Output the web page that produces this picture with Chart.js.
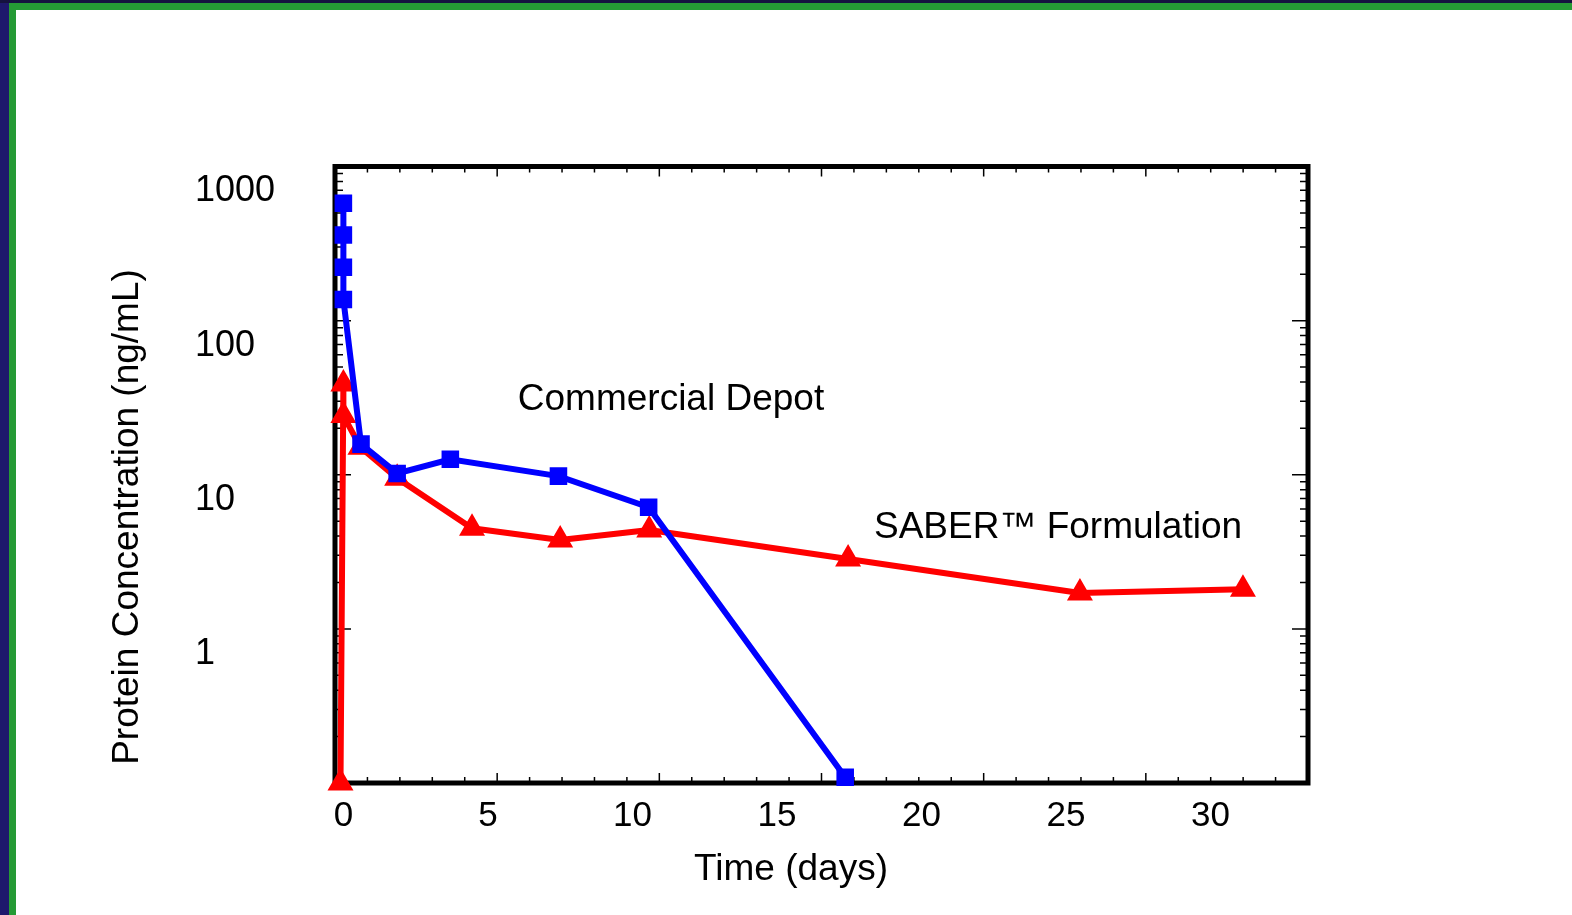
<!DOCTYPE html>
<html lang="en">
<head>
  <meta charset="UTF-8" />
  <title>Protein Concentration vs Time</title>
  <script src="https://cdn.jsdelivr.net/npm/chart.js"></script>
  <style>
    html, body { margin: 0; padding: 0; }
    body {
      width: 1572px;
      height: 915px;
      position: relative;
      overflow: hidden;
      background: #1e186c;
    }
    .topband { position: absolute; left: 0; top: 0; right: 0; height: 3px; background: #15123f; }
    .green { position: absolute; left: 9px; top: 3px; right: 0; bottom: 0; background: #259a35; }
    .sheet { position: absolute; left: 16px; top: 10px; right: 0; bottom: 0; background: #fff; }
    canvas { position: absolute; left: 0; top: 0; }
  </style>
</head>
<body>
  <div class="topband"></div>
  <div class="green"></div>
  <div class="sheet"></div>
  <canvas id="pkChart" width="1572" height="915"></canvas>

  <script>
    // Commercial depot (blue squares)
    const depotTime = [0, 0, 0, 0, 0.61, 1.86, 3.7, 7.44, 10.56, 17.36];
    const depotConc = [577, 359, 222, 137, 15.8, 10.2, 12.6, 9.8, 6.15, 0.109];

    // SABER formulation (red triangles)
    const saberTime = [-0.1, 0, 0, 0.59, 1.86, 4.45, 7.5, 10.58, 17.46, 25.48, 31.12];
    const saberConc = [0.1, 38.8, 24.2, 15.1, 9.5, 4.5, 3.77, 4.38, 2.84, 1.71, 1.81];

    const xTickLabels = [0, 5, 10, 15, 20, 25, 30];
    const yTickLabels = [1, 10, 100, 1000];
    // small tick marks drawn on the inside of the frame
    const frameTicksX = [];
    for (let i = 1; i < 30; i++) frameTicksX.push(i);

    const FONT = '"Liberation Sans", Arial, sans-serif';
    Chart.defaults.font.family = FONT;
    Chart.defaults.color = '#000';

    const toPoints = (xs, ys) => xs.map((x, i) => ({ x: x, y: ys[i] }));

    const framePlugin = {
      id: 'frame',
      beforeDatasetsDraw(chart) {
        const { ctx, chartArea: a, scales } = chart;
        ctx.save();
        ctx.strokeStyle = '#000';
        ctx.lineWidth = 1.5;
        ctx.beginPath();
        frameTicksX.forEach(v => {
          const px = scales.xt.getPixelForValue(v);
          const len = v % 5 === 0 ? 10 : 6;
          ctx.moveTo(px, a.bottom); ctx.lineTo(px, a.bottom - len);
          ctx.moveTo(px, a.top); ctx.lineTo(px, a.top + len);
        });
        for (let d = -1; d < 3; d++) {
          for (let m = 1; m < 10; m++) {
            const v = m * Math.pow(10, d);
            if (v <= 0.1) continue;
            const py = scales.y.getPixelForValue(v);
            const len = m === 1 ? 16 : 8;
            ctx.moveTo(a.left, py); ctx.lineTo(a.left + len, py);
            ctx.moveTo(a.right, py); ctx.lineTo(a.right - len, py);
          }
        }
        ctx.stroke();
        ctx.lineWidth = 5;
        ctx.strokeRect(a.left, a.top, a.right - a.left, a.bottom - a.top);
        ctx.restore();
      },
      afterDraw(chart) {
        const ctx = chart.ctx;
        ctx.save();
        ctx.fillStyle = '#000';
        ctx.textAlign = 'center';
        ctx.textBaseline = 'middle';
        ctx.font = '37px ' + FONT;
        ctx.fillText('Commercial Depot', 671, 400);
        ctx.fillText('SABER\u2122 Formulation', 1058, 528);
        ctx.fillText('Time (days)', 791, 870);
        ctx.translate(128, 517);
        ctx.rotate(-Math.PI / 2);
        ctx.fillText('Protein Concentration (ng/mL)', 0, 0);
        ctx.restore();
      }
    };

    new Chart(document.getElementById('pkChart'), {
      type: 'line',
      data: {
        datasets: [
          {
            label: 'Commercial Depot',
            data: toPoints(depotTime, depotConc),
            borderColor: '#0000ff',
            backgroundColor: '#0000ff',
            borderWidth: 6,
            pointStyle: 'rect',
            pointRadius: 11,
            pointBorderWidth: 2,
            tension: 0,
            clip: false
          },
          {
            label: 'SABER\u2122 Formulation',
            data: toPoints(saberTime, saberConc),
            borderColor: '#ff0000',
            backgroundColor: '#ff0000',
            borderWidth: 6,
            borderJoinStyle: 'round',
            pointStyle: 'triangle',
            pointRadius: 12,
            pointBorderWidth: 3,
            tension: 0,
            clip: false
          }
        ]
      },
      options: {
        responsive: false,
        animation: false,
        events: [],
        layout: {
          autoPadding: false,
          padding: { left: 195, top: 166.5, right: 264, bottom: 72 }
        },
        plugins: {
          legend: { display: false },
          tooltip: { enabled: false }
        },
        scales: {
          x: {
            type: 'linear',
            position: 'bottom',
            min: -0.29,
            max: 33.37,
            afterBuildTicks: s => { s.ticks = xTickLabels.map(v => ({ value: v })); },
            afterFit: s => { s.height = 60; },
            grid: { display: false, drawTicks: false },
            border: { display: false },
            ticks: {
              font: { size: 35 },
              padding: 12,
              maxRotation: 0,
              autoSkip: false,
              callback: v => String(v)
            }
          },
          xt: {
            type: 'linear',
            position: 'top',
            display: false,
            min: 0,
            max: 30
          },
          y: {
            type: 'logarithmic',
            position: 'left',
            min: 0.1,
            max: 1000,
            afterBuildTicks: s => { s.ticks = yTickLabels.map(v => ({ value: v })); },
            afterFit: s => { s.width = 140; },
            grid: { display: false, drawTicks: false },
            border: { display: false },
            ticks: {
              font: { size: 36 },
              crossAlign: 'far',
              labelOffset: 25,
              autoSkip: false,
              callback: v => String(v)
            }
          }
        }
      },
      plugins: [framePlugin]
    });
  </script>
</body>
</html>
